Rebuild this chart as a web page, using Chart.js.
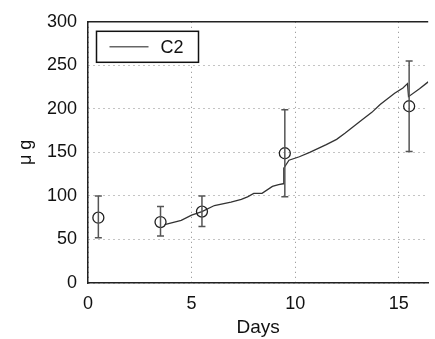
<!DOCTYPE html>
<html>
<head>
<meta charset="utf-8">
<script src="https://cdn.jsdelivr.net/npm/chart.js@4.4.1/dist/chart.umd.min.js"></script>
<style>
    html, body { margin: 0; padding: 0; background: #fff; }
    #wrap { width: 435px; height: 339px; }
</style>
</head>
<body>
<div id="wrap"><canvas id="chart-item" width="435" height="339"></canvas></div>
<script>
// measured points (circles with error bars)
var days = [0.5, 3.5, 5.5, 9.5, 15.5];
var means = [75, 70, 82, 149, 203];
var errLow = [52, 54, 65, 99, 151];
var errHigh = [100, 88, 100, 199, 255];

// model curve C2
var fitDays = [3.7, 4.5, 5.0, 5.5, 6.1, 6.9, 7.4, 7.7, 8.0, 8.4, 8.9, 9.2, 9.42, 9.45, 9.7, 10.2, 10.7, 11.5, 12.0, 12.4, 13.2, 13.7, 14.1, 14.8, 15.2, 15.42, 15.47, 16.0, 16.42];
var fitVals = [67, 72, 78, 82, 89, 93, 96, 99, 103, 103, 111, 113, 114, 132, 141, 145, 150, 159, 165, 172, 187, 196, 205, 218, 224, 229, 214, 223, 231];

var xTicks = [0, 5, 10, 15];
var yTicks = [0, 50, 100, 150, 200, 250, 300];
var seriesName = 'C2';
var xTitle = 'Days';
var yTitle = 'μ g';

var FONT = '"Liberation Sans", Helvetica, Arial, sans-serif';
var lineColor = '#333';

function pairs(xs, ys) {
    var out = [];
    for (var i = 0; i < xs.length; i++) {
        out.push({x: xs[i], y: ys[i]});
    }
    return out;
}

// error bars + top border + legend box
var extras = {
    id: 'extras',
    afterDatasetsDraw: function (chart) {
        var ctx = chart.ctx;
        var xs = chart.scales.x, ys = chart.scales.y;
        var area = chart.chartArea;
        ctx.save();

        // error bars
        ctx.strokeStyle = '#555';
        ctx.lineWidth = 1.5;
        for (var i = 0; i < days.length; i++) {
            var px = xs.getPixelForValue(days[i]);
            var y1 = ys.getPixelForValue(errLow[i]);
            var y2 = ys.getPixelForValue(errHigh[i]);
            ctx.beginPath();
            ctx.moveTo(px, y1); ctx.lineTo(px, y2);
            ctx.moveTo(px - 3.5, y1); ctx.lineTo(px + 3.5, y1);
            ctx.moveTo(px - 3.5, y2); ctx.lineTo(px + 3.5, y2);
            ctx.stroke();
        }

        // top frame line
        ctx.strokeStyle = '#222';
        ctx.lineWidth = 1.5;
        ctx.beginPath();
        ctx.moveTo(area.left, area.top);
        ctx.lineTo(area.right, area.top);
        ctx.stroke();

        // legend
        var bx = area.left + 8.5, by = area.top + 9.5, bw = 102, bh = 31;
        ctx.fillStyle = '#fff';
        ctx.fillRect(bx, by, bw, bh);
        ctx.strokeStyle = '#111';
        ctx.lineWidth = 1.5;
        ctx.strokeRect(bx, by, bw, bh);
        ctx.strokeStyle = '#666';
        ctx.lineWidth = 1.5;
        ctx.beginPath();
        ctx.moveTo(bx + 13, by + bh / 2);
        ctx.lineTo(bx + 52, by + bh / 2);
        ctx.stroke();
        ctx.fillStyle = '#111';
        ctx.font = '18px ' + FONT;
        ctx.textBaseline = 'middle';
        ctx.fillText(seriesName, bx + 64, by + bh / 2 + 1);
        ctx.restore();
    }
};

var ctx = document.getElementById('chart-item').getContext('2d');
var chart = new Chart(ctx, {
    type: 'scatter',
    data: {
        datasets: [{
            label: seriesName,
            data: pairs(fitDays, fitVals),
            showLine: true,
            borderColor: lineColor,
            borderWidth: 1.3,
            pointRadius: 0,
            tension: 0,
            order: 2
        }, {
            label: 'data',
            data: pairs(days, means),
            showLine: false,
            pointStyle: 'circle',
            pointRadius: 5.5,
            borderColor: '#222',
            borderWidth: 1.3,
            backgroundColor: 'rgba(0,0,0,0)',
            order: 1
        }]
    },
    options: {
        responsive: false,
        animation: false,
        layout: { padding: { top: 13, right: 0, left: 0, bottom: 0 } },
        plugins: {
            legend: { display: false },
            tooltip: { enabled: false }
        },
        scales: {
            x: {
                type: 'linear',
                min: 0,
                max: 16.42,
                afterBuildTicks: function (scale) {
                    scale.ticks = xTicks.map(function (v) { return {value: v}; });
                },
                afterFit: function (scale) { scale.height = 56; },
                ticks: {
                    color: '#111',
                    font: { family: FONT, size: 18 },
                    padding: 10,
                    maxRotation: 0
                },
                grid: {
                    color: '#888',
                    lineWidth: 1,
                    drawTicks: false
                },
                border: { display: true, color: '#222', width: 1.5, dash: [1, 4] },
                title: {
                    display: true,
                    text: xTitle,
                    color: '#111',
                    font: { family: FONT, size: 19 },
                    padding: { top: 0, bottom: 0 }
                }
            },
            y: {
                min: 0,
                max: 300,
                afterBuildTicks: function (scale) {
                    scale.ticks = yTicks.map(function (v) { return {value: v}; });
                },
                afterFit: function (scale) { scale.width = 88; },
                ticks: {
                    color: '#111',
                    font: { family: FONT, size: 18 },
                    padding: 11
                },
                grid: {
                    color: '#888',
                    lineWidth: 1,
                    drawTicks: false
                },
                border: { display: true, color: '#222', width: 1.5, dash: [1, 4] },
                title: {
                    display: true,
                    text: yTitle,
                    color: '#111',
                    font: { family: FONT, size: 18 },
                    padding: { top: 15, bottom: 0 }
                }
            }
        }
    },
    plugins: [extras]
});
</script>
</body>
</html>
